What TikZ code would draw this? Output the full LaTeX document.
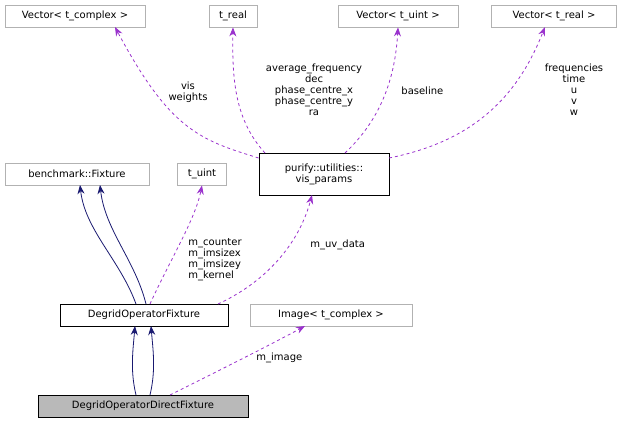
\documentclass[tikz,border=0pt]{standalone}
\usepackage{fontspec}
\setmainfont{DejaVu Sans}
\usetikzlibrary{arrows.meta}
\definecolor{edgep}{HTML}{9A32CD}
\definecolor{edgen}{HTML}{191970}
\begin{document}
\begin{tikzpicture}[x=1pt,y=-1pt,line width=0.8pt,
  every node/.style={font=\fontsize{10}{11}\selectfont},
  box/.style={draw=black,fill=white,minimum height=22pt,inner sep=2pt,anchor=center},
  gbox/.style={draw=gray!60,fill=white,minimum height=22pt,inner sep=3pt},
  dep/.style={edgep,dashed,-{Stealth[length=9pt,width=7pt]}},
  inh/.style={edgen,-{Stealth[length=9pt,width=7pt]}},
  lab/.style={align=center,inner sep=0pt}]
\useasboundingbox (0,0) rectangle (627,423);
\node[gbox,minimum width=140pt] (vc) at (75,16) {Vector< t\_complex >};
\node[gbox,minimum width=48pt] (tr) at (233,16) {t\_real};
\node[gbox,minimum width=120pt] (vu) at (398,16) {Vector< t\_uint >};
\node[gbox,minimum width=125pt] (vr) at (554,16) {Vector< t\_real >};
\node[gbox,minimum width=144pt] (bf) at (77,174) {benchmark::Fixture};
\node[gbox,minimum width=49pt] (tu) at (202,174) {t\_uint};
\node[box,minimum width=130pt,minimum height=42pt,align=center] (vp) at (324,174) {purify::utilities::\\vis\_params};
\node[box,minimum width=168pt] (dof) at (144,315) {DegridOperatorFixture};
\node[gbox,minimum width=162pt] (img) at (331,315) {Image< t\_complex >};
\node[box,fill=gray!55,minimum width=210pt] (dodf) at (143,406) {DegridOperatorDirectFixture};

\draw[dep] (vp.west|-0,158) .. controls (200,140) and (170,130) .. (115,27);
\node[lab] at (188,92) {vis\\weights};
\draw[dep] (265,153) .. controls (235,120) and (232,80) .. (tr.south);
\node[lab] at (314,90) {average\_frequency\\dec\\phase\_centre\_x\\phase\_centre\_y\\ra};
\draw[dep] (345,153) .. controls (380,120) and (395,80) .. (vu.south);
\node[lab,anchor=west] at (401,91) {baseline};
\draw[dep] (389,158) .. controls (480,140) and (520,90) .. (545,27);
\node[lab] at (574,90) {frequencies\\time\\u\\v\\w};

\draw[inh] (136,304) .. controls (120,260) and (85,230) .. (80,185);
\draw[inh] (146,304) .. controls (135,260) and (105,230) .. (100,185);
\draw[dep] (150,304) .. controls (170,260) and (195,220) .. (tu.south);
\node[lab,align=left,anchor=west] at (188,260) {m\_counter\\m\_imsizex\\m\_imsizey\\m\_kernel};
\draw[dep] (218,304) .. controls (270,280) and (300,240) .. (312,195);
\node[lab,anchor=west] at (310,245) {m\_uv\_data};

\draw[inh] (136,395) .. controls (130,370) and (133,350) .. (135,326);
\draw[inh] (150,395) .. controls (156,370) and (153,350) .. (151,326);
\draw[dep] (170,395) .. controls (220,370) and (270,345) .. (305,326);
\node[lab,anchor=west] at (256,358) {m\_image};
\end{tikzpicture}
\end{document}
